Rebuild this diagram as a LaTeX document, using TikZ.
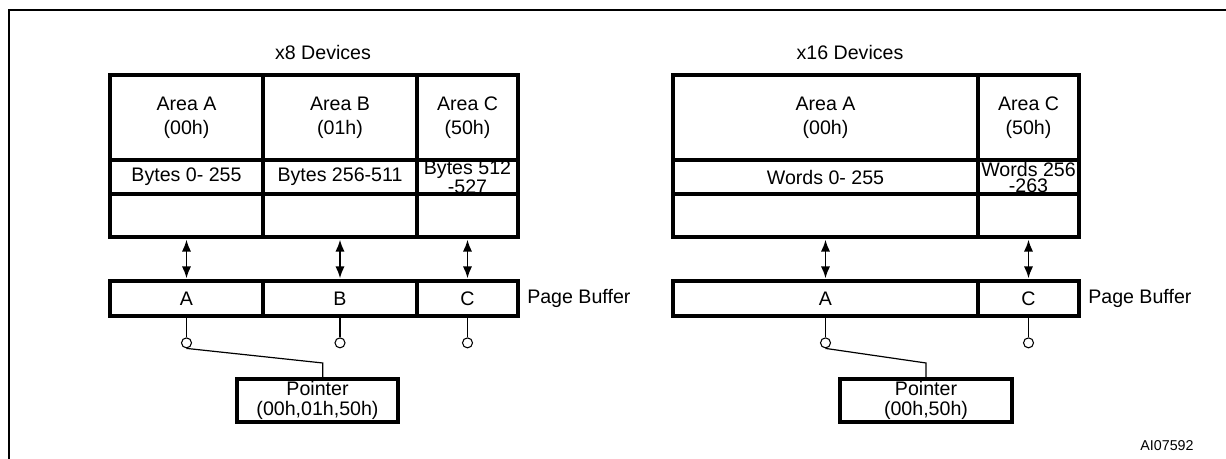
\documentclass[tikz,border=0pt]{standalone}
\usepackage{fontspec}
\setmainfont{Liberation Sans}
\usetikzlibrary{arrows.meta, positioning}

\begin{document}
\begin{tikzpicture}[x=0.75pt, y=-0.75pt,
        >={Latex[length=9pt,width=7pt]},
        font=\fontsize{14.7}{18}\selectfont,
        areacell/.style={draw, line width=2.4pt, inner sep=0pt, outer sep=0pt, align=center},
        cellsize/.style 2 args={minimum width=#1*0.75pt, minimum height=#2*0.75pt},
        tightcell/.style={font=\fontsize{14.7}{12}\selectfont},
        ringnode/.style={circle, draw, line width=0.8pt, minimum size=7.5pt, inner sep=0pt},
        ptrbox/.style={areacell, font=\fontsize{14.7}{15}\selectfont},
        xfer/.style={<->, line width=1.3pt, shorten <=2pt, shorten >=2pt},
        wire/.style={line width=0.9pt}]
        \useasboundingbox (0,0) rectangle (1226,459);
        % Rahmen
        \draw[line width=2pt] (9,459) -- (9,10) -- (1226,10);
        % x8
        \node (t8) at (323,52) {x8 Devices};
        \node[areacell, cellsize={153}{85}, anchor=north west] (areaA8) at (110,75) {Area A\\(00h)};
        \node[areacell, cellsize={154}{85}, right=0pt of areaA8] (areaB8) {Area B\\(01h)};
        \node[areacell, cellsize={101}{85}, right=0pt of areaB8] (areaC8) {Area C\\(50h)};
        \node[areacell, cellsize={153}{34}, below=0pt of areaA8] (bytesA8) {Bytes 0- 255};
        \node[areacell, cellsize={154}{34}, below=0pt of areaB8] (bytesB8) {Bytes 256-511};
        \node[areacell, tightcell, cellsize={101}{34}, below=0pt of areaC8] (bytesC8) {Bytes 512\\-527};
        \node[areacell, cellsize={153}{43}, below=0pt of bytesA8] (spareA8) {};
        \node[areacell, cellsize={154}{43}, below=0pt of bytesB8] (spareB8) {};
        \node[areacell, cellsize={101}{43}, below=0pt of bytesC8] (spareC8) {};
        \node[areacell, cellsize={153}{35}, below=33pt of spareA8] (bufA8) {A};
        \node[areacell, cellsize={154}{35}, below=33pt of spareB8] (bufB8) {B};
        \node[areacell, cellsize={101}{35}, below=33pt of spareC8] (bufC8) {C};
        \node[inner sep=0pt, right=6.75pt of bufC8] (pbuf8) {Page Buffer};
        \foreach \c in {A,B,C} {
            \draw[xfer] (spare\c8.south) -- (buf\c8.north);
            \node[ringnode, below=16pt of buf\c8] (tap\c8) {};
            \draw[wire] (buf\c8.south) -- (tap\c8.north);
        }
        \node[ptrbox, cellsize={161}{43}, anchor=north west] (ptr8) at (237,379) {Pointer\\(00h,01h,50h)};
        \draw[wire] (tapA8.south) -- ([xshift=4pt, yshift=12pt]ptr8.north) -- ([xshift=4pt]ptr8.north);
        % x16
        \node (t16) at (850,52) {x16 Devices};
        \node[areacell, cellsize={305}{85}, anchor=north west] (areaA16) at (673,75) {Area A\\(00h)};
        \node[areacell, cellsize={101}{85}, right=0pt of areaA16] (areaC16) {Area C\\(50h)};
        \node[areacell, cellsize={305}{34}, below=0pt of areaA16] (wordsA16) {Words 0- 255};
        \node[areacell, tightcell, cellsize={101}{34}, below=0pt of areaC16] (wordsC16) {Words 256\\-263};
        \node[areacell, cellsize={305}{43}, below=0pt of wordsA16] (spareA16) {};
        \node[areacell, cellsize={101}{43}, below=0pt of wordsC16] (spareC16) {};
        \node[areacell, cellsize={305}{35}, below=33pt of spareA16] (bufA16) {A};
        \node[areacell, cellsize={101}{35}, below=33pt of spareC16] (bufC16) {C};
        \node[inner sep=0pt, right=6.75pt of bufC16] (pbuf16) {Page Buffer};
        \foreach \c in {A,C} {
            \draw[xfer] (spare\c16.south) -- (buf\c16.north);
            \node[ringnode, below=16pt of buf\c16] (tap\c16) {};
            \draw[wire] (buf\c16.south) -- (tap\c16.north);
        }
        \node[ptrbox, cellsize={172}{43}, anchor=north west] (ptr16) at (840,379) {Pointer\\(00h,50h)};
        \draw[wire] (tapA16.south) -- ([yshift=12pt]ptr16.north) -- (ptr16.north);
        % Kennung
        \node[font=\fontsize{10.7}{12}\selectfont] (fig) at (1167,446) {AI07592};
    \end{tikzpicture}
\end{document}
